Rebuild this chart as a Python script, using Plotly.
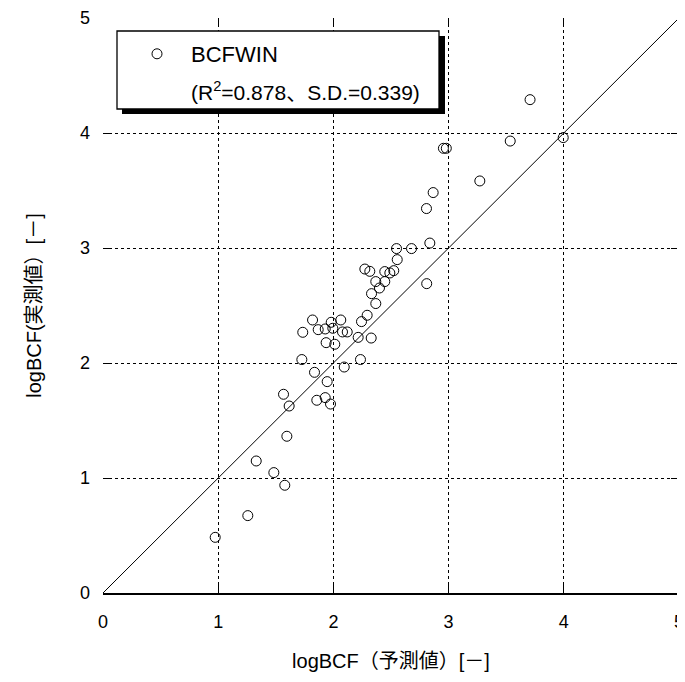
import plotly.graph_objects as go

# ---- data ----
pred = [0.974, 1.257, 1.330, 1.483, 1.578, 1.596, 1.616, 1.567, 1.856, 1.929,
        1.975, 1.946, 1.836, 2.094, 1.726, 2.235, 1.937, 2.012, 2.215, 2.328,
        1.734, 1.868, 1.929, 1.995, 2.079, 2.120, 1.819, 1.981, 2.064, 2.244,
        2.293, 2.368, 2.331, 2.400, 2.368, 2.446, 2.810, 2.273, 2.316, 2.446,
        2.490, 2.524, 2.554, 2.548, 2.678, 2.837, 2.808, 2.866, 3.271, 2.955,
        2.980, 3.535, 3.995, 3.707]
meas = [0.484, 0.673, 1.148, 1.047, 0.937, 1.363, 1.626, 1.728, 1.676, 1.699,
        1.643, 1.838, 1.919, 1.965, 2.030, 2.030, 2.177, 2.163, 2.223, 2.217,
        2.267, 2.290, 2.296, 2.302, 2.270, 2.270, 2.374, 2.354, 2.374, 2.360,
        2.415, 2.517, 2.603, 2.652, 2.708, 2.708, 2.690, 2.817, 2.797, 2.795,
        2.783, 2.803, 2.899, 2.995, 2.995, 3.043, 3.343, 3.482, 3.583, 3.867,
        3.867, 3.930, 3.960, 4.290]
diag = [0, 5]
tick_vals = [0, 1, 2, 3, 4, 5]
tick_text = ["0", "1", "2", "3", "4", "5"]
series_name = "BCFWIN"
stats_text = "(R<sup>2</sup>=0.878、S.D.=0.339)"
x_title = "logBCF（予測値）[－]"
y_title = "logBCF(実測値）[－]"

# ---- layout geometry (page has an 8px body margin) ----
OFF = 8
W, H = 685 - OFF, 682 - OFF
L, R, T, B = 103 - OFF, 6, 18 - OFF, 89
PW, PH = W - L - R, H - T - B


def fx(p):  # page pixel -> paper x
    return (p - OFF - L) / PW


def fy(p):  # page pixel -> paper y
    return (H - B - (p - OFF)) / PH


FONT = "Liberation Sans, Arial, Noto Sans CJK JP, sans-serif"

fig = go.Figure()

fig.add_trace(go.Scatter(
    x=pred, y=meas, mode="markers", name=series_name,
    marker=dict(symbol="circle-open", size=10, color="black",
                line=dict(width=1, color="black")),
    showlegend=True,
))
fig.add_trace(go.Scatter(
    x=diag, y=diag, mode="lines", xaxis="x2", yaxis="y2",
    line=dict(color="black", width=1), showlegend=False, hoverinfo="skip",
))

grid_style = dict(showgrid=True, gridcolor="black", gridwidth=1,
                  griddash="3px,3px", zeroline=False)

fig.update_layout(
    width=W, height=H,
    margin=dict(l=L, r=R, t=T, b=B, autoexpand=False),
    paper_bgcolor="white", plot_bgcolor="white",
    font=dict(family=FONT, color="black", size=18),
    xaxis=dict(range=[0, 5], tickvals=tick_vals, ticktext=tick_text,
               ticks="inside", ticklen=8, tickcolor="black", tickwidth=1,
               showline=True, linecolor="black", linewidth=1.5,
               ticklabelstandoff=12, tickfont=dict(size=18),
               title=dict(text=x_title, font=dict(size=20), standoff=23),
               **grid_style),
    yaxis=dict(range=[0, 5], tickvals=tick_vals, ticktext=tick_text,
               ticks="inside", ticklen=8, tickcolor="black", tickwidth=1,
               showline=False, ticklabelstandoff=12, tickfont=dict(size=18),
               title=dict(text=y_title, font=dict(size=20), standoff=32),
               **grid_style),
    xaxis2=dict(range=[0, 5], overlaying="x", side="top", matches="x",
                tickvals=tick_vals, ticks="inside", ticklen=8,
                tickcolor="black", showticklabels=False, showgrid=False,
                zeroline=False, showline=False),
    yaxis2=dict(range=[0, 5], overlaying="y", side="right", matches="y",
                tickvals=tick_vals, ticks="inside", ticklen=8,
                tickcolor="black", showticklabels=False, showgrid=False,
                zeroline=False, showline=False),
    legend=dict(x=fx(123), y=fy(33), xanchor="left", yanchor="top",
                bgcolor="rgba(0,0,0,0)", borderwidth=0,
                font=dict(size=22), itemwidth=58),
    shapes=[
        dict(type="rect", xref="paper", yref="paper",
             x0=fx(122), x1=fx(445), y0=fy(114), y1=fy(36),
             fillcolor="black", line=dict(width=0), layer="above"),
        dict(type="rect", xref="paper", yref="paper",
             x0=fx(117), x1=fx(439), y0=fy(109), y1=fy(31),
             fillcolor="white", line=dict(color="black", width=1.3),
             layer="above"),
    ],
    annotations=[
        dict(text=stats_text, xref="paper", yref="paper",
             x=fx(189), y=fy(91), xanchor="left", yanchor="middle",
             showarrow=False, font=dict(size=21)),
    ],
)

fig.write_html("out.html")
